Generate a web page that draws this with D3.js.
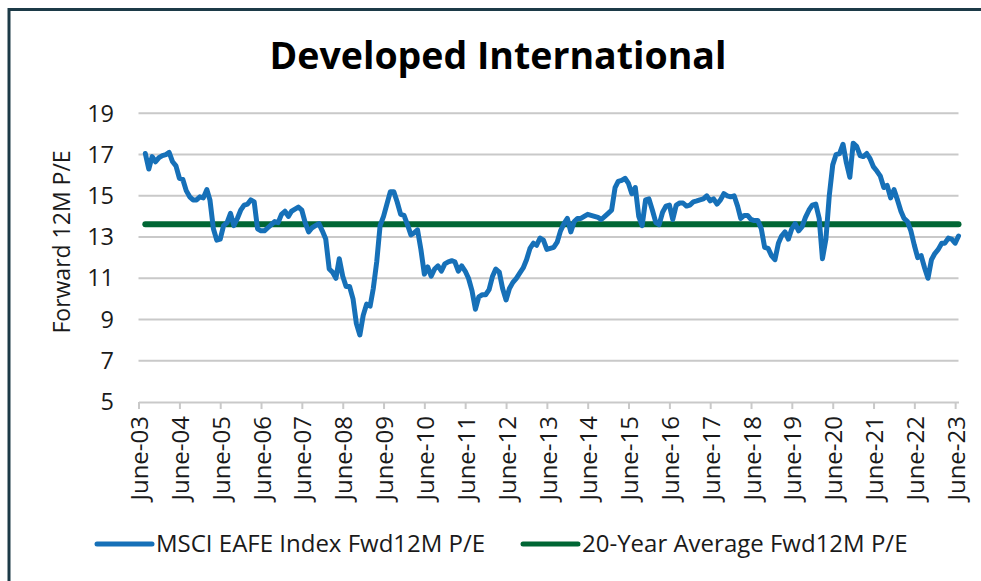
<html>
    <head>
        <script src="https://d3js.org/d3.v7.min.js"></script>
        <style type="text/css">
        body {
            margin: 0;
            background-color: #ffffff;
        }
        text {
            font-family: "Open Sans", "Noto Sans", sans-serif;
            fill: #1a1a1a;
        }
        </style>
    </head>
    <body>
        <script>
// monthly forward P/E, first value is Aug 2003
const startMonth = "2003-08";
const peValues = [
    17.05, 16.3, 16.9, 16.65, 16.85,
    16.95, 17.0, 17.1, 16.65, 16.45, 15.85, 15.8, 15.25, 14.95, 14.8, 14.8, 14.95,
    14.9, 15.3, 14.8, 13.4, 12.85, 12.9, 13.55, 13.7, 14.15, 13.55, 13.9, 14.3,
    14.55, 14.6, 14.8, 14.7, 13.4, 13.3, 13.3, 13.45, 13.6, 13.75, 13.7, 14.1,
    14.25, 14.0, 14.25, 14.35, 14.45, 14.3, 13.7, 13.25, 13.45, 13.55, 13.65, 13.3,
    12.9, 11.45, 11.3, 11.0, 11.95, 11.1, 10.6, 10.6, 10.0, 8.8, 8.25, 9.2,
    9.75, 9.65, 10.5, 11.8, 13.55, 14.0, 14.6, 15.2, 15.2, 14.7, 14.1, 14.05,
    13.6, 13.1, 13.2, 13.35, 12.4, 11.2, 11.55, 11.1, 11.45, 11.6, 11.35, 11.7,
    11.8, 11.85, 11.8, 11.35, 11.6, 11.35, 11.0, 10.4, 9.5, 10.1, 10.2, 10.2,
    10.45, 11.1, 11.45, 11.3, 10.5, 9.95, 10.5, 10.8, 11.0, 11.25, 11.5, 11.9,
    12.45, 12.7, 12.6, 12.95, 12.85, 12.4, 12.45, 12.5, 12.75, 13.3, 13.65, 13.9,
    13.25, 13.75, 13.9, 13.9, 14.0, 14.1, 14.05, 14.0, 13.95, 13.85, 14.0, 14.15,
    14.3, 15.4, 15.7, 15.75, 15.85, 15.6, 15.1, 15.4, 14.0, 13.55, 14.8, 14.85,
    14.3, 13.7, 13.6, 14.2, 14.5, 14.55, 13.85, 14.55, 14.65, 14.65, 14.5, 14.55,
    14.7, 14.75, 14.8, 14.85, 15.0, 14.75, 14.85, 14.6, 14.8, 15.1, 15.0, 14.95,
    15.0, 14.5, 13.9, 14.05, 14.05, 13.85, 13.8, 13.8, 13.4, 12.5, 12.45, 12.1,
    11.9, 12.7, 13.05, 13.25, 12.9, 13.4, 13.65, 13.3, 13.5, 13.95, 14.3, 14.55,
    14.6, 13.9, 11.95, 12.9, 15.0, 16.5, 17.0, 17.05, 17.5, 16.6, 15.9, 17.55,
    17.4, 16.95, 16.9, 17.05, 16.8, 16.4, 16.2, 15.95, 15.4, 15.5, 14.9, 15.3,
    14.8, 14.25, 13.9, 13.75, 13.3, 12.6, 12.0, 12.1, 11.5, 11.0, 11.9, 12.2,
    12.4, 12.7, 12.7, 12.95, 12.9, 12.7, 13.05
];
const avgPE = 13.62;

const yTicks = [5, 7, 9, 11, 13, 15, 17, 19];
const xTickLabels = ["June-03", "June-04", "June-05", "June-06", "June-07", "June-08",
    "June-09", "June-10", "June-11", "June-12", "June-13", "June-14", "June-15",
    "June-16", "June-17", "June-18", "June-19", "June-20", "June-21", "June-22", "June-23"];
const seriesNames = ["MSCI EAFE Index Fwd12M P/E", "20-Year Average Fwd12M P/E"];
const chartTitle = "Developed International";
const yTitle = "Forward 12M P/E";

function init() {
    let width = 981;
    let height = 581;
    let blue = "#1670b8";
    let green = "#006634";
    let grid = "#c9c9c9";

    let parseMonth = d3.timeParse("%Y-%m");
    let parseTick = d3.timeParse("%B-%y");
    let start = parseMonth(startMonth);
    let data = peValues.map((v, i) => ({date: d3.timeMonth.offset(start, i), value: v}));
    let first = data[0].date;
    let last = data[data.length - 1].date;

    let svg = d3.select("body").append("svg")
        .attr("width", width)
        .attr("height", height)
        .attr("viewBox", [0, 0, width, height]);

    // frame
    svg.append("rect")
        .attr("x", 9)
        .attr("y", 9.5)
        .attr("width", 1000)
        .attr("height", 600)
        .attr("fill", "#ffffff")
        .attr("stroke", "#1c3a47")
        .attr("stroke-width", 3);

    let xScale = d3.scaleTime()
        .domain([parseTick(xTickLabels[0]), last])
        .range([138.5, 958.5]);
    let yScale = d3.scaleLinear().domain([5, 19]).range([402, 113.3]);

    svg.append("text")
        .text(chartTitle)
        .attr("x", 498)
        .attr("y", 69)
        .attr("text-anchor", "middle")
        .attr("font-size", "37.5px")
        .attr("font-weight", "bold")
        .style("fill", "#000");

    // gridlines
    svg.append("g").selectAll("line")
        .data(yTicks.filter(d => d > 5))
        .enter()
        .append("line")
        .attr("x1", 138.5)
        .attr("x2", 958.5)
        .attr("y1", d => yScale(d))
        .attr("y2", d => yScale(d))
        .attr("stroke", grid)
        .attr("stroke-width", 2);

    // y labels
    svg.append("g").selectAll("text")
        .data(yTicks)
        .enter()
        .append("text")
        .text(d => d)
        .attr("x", 114)
        .attr("y", d => yScale(d))
        .attr("dy", "0.35em")
        .attr("text-anchor", "end")
        .attr("font-size", "23.5px");

    svg.append("text")
        .text(yTitle)
        .attr("transform", "translate(70,242) rotate(-90)")
        .attr("text-anchor", "middle")
        .attr("font-size", "23px");

    // x axis
    let xAxis = d3.axisBottom(xScale)
        .tickValues(xTickLabels.map(parseTick))
        .tickFormat(d3.timeFormat("%B-%y"))
        .tickSize(7)
        .tickSizeOuter(0);
    let gx = svg.append("g")
        .attr("transform", "translate(0,402)")
        .call(xAxis);
    gx.select(".domain").attr("stroke", grid).attr("stroke-width", 2);
    gx.selectAll(".tick line").attr("stroke", grid).attr("stroke-width", 2);
    gx.selectAll(".tick text")
        .attr("font-size", "24px")
        .attr("font-family", "Open Sans")
        .style("fill", "#1a1a1a")
        .attr("transform", "rotate(-90)")
        .attr("text-anchor", "end")
        .attr("x", -14)
        .attr("y", 0)
        .attr("dy", "0.38em");

    // average line
    svg.append("line")
        .attr("x1", xScale(first))
        .attr("x2", xScale(last))
        .attr("y1", yScale(avgPE))
        .attr("y2", yScale(avgPE))
        .attr("stroke", green)
        .attr("stroke-width", 6)
        .attr("stroke-linecap", "round");

    let line = d3.line()
        .x(d => xScale(d.date))
        .y(d => yScale(d.value));
    svg.append("path")
        .datum(data)
        .attr("d", line)
        .attr("fill", "none")
        .attr("stroke", blue)
        .attr("stroke-width", 5)
        .attr("stroke-linejoin", "round")
        .attr("stroke-linecap", "round");

    // legend
    let legendX = [97, 523];
    let legend = svg.append("g").selectAll("g")
        .data(seriesNames)
        .enter()
        .append("g")
        .attr("transform", (d, i) => "translate(" + legendX[i] + ",544)");
    legend.append("line")
        .attr("x1", 0)
        .attr("x2", 55)
        .attr("stroke", (d, i) => i == 0 ? blue : green)
        .attr("stroke-width", 5)
        .attr("stroke-linecap", "round");
    legend.append("text")
        .text(d => d)
        .attr("x", 59)
        .attr("dy", "0.35em")
        .attr("font-size", "24px");
}
init();
        </script>
    </body>
</html>
